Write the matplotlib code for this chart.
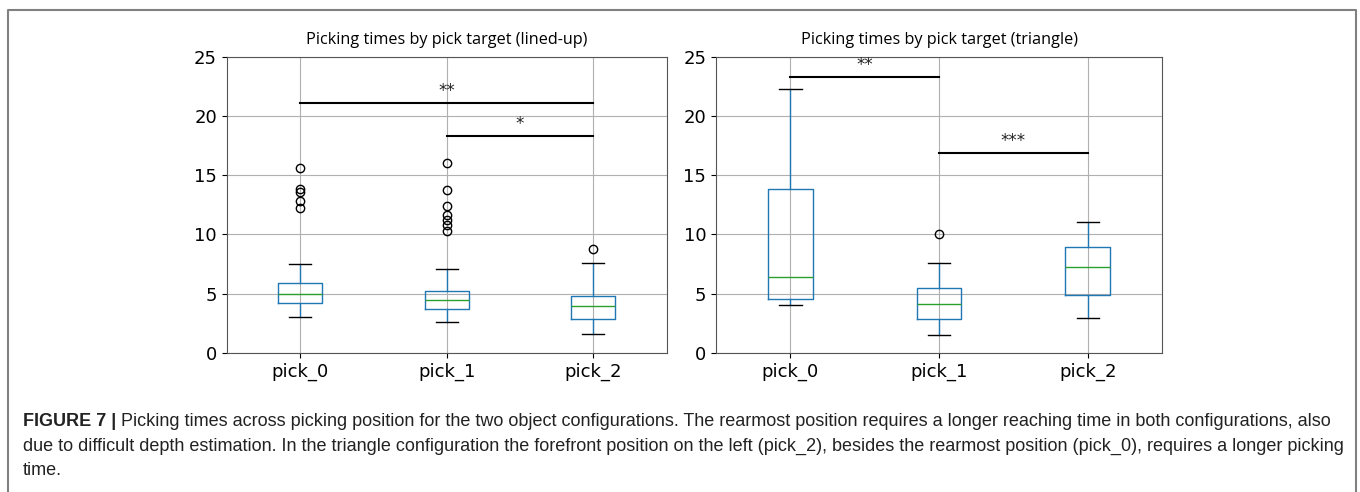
import numpy as np
import matplotlib
matplotlib.use('Agg')
import matplotlib.pyplot as plt
from matplotlib.lines import Line2D

picks = ['pick_0', 'pick_1', 'pick_2']

# lined-up configuration (seconds)
lined_whislo = [3.04, 2.62, 1.60]
lined_q1 = [4.17, 3.69, 2.85]
lined_med = [4.96, 4.42, 3.92]
lined_q3 = [5.86, 5.21, 4.82]
lined_whishi = [7.47, 7.07, 7.55]
lined_fliers = [[15.63, 13.80, 13.60, 12.84, 12.22],
                [16.00, 13.74, 12.36, 11.63, 11.20, 10.78, 10.25],
                [8.73]]
# significance bars: (from, to, height, label)
lined_sig = [(1, 3, 21.06, '**'), (2, 3, 18.30, '*')]

# triangle configuration (seconds)
tri_whislo = [4.03, 1.52, 2.90]
tri_q1 = [4.56, 2.82, 4.90]
tri_med = [6.42, 4.11, 7.26]
tri_q3 = [13.83, 5.49, 8.90]
tri_whishi = [22.25, 7.55, 11.06]
tri_fliers = [[], [10.05], []]
tri_sig = [(1, 2, 23.31, '**'), (2, 3, 16.90, '***')]

caption_lines = [
    'Picking times across picking position for the two object configurations. '
    'The rearmost position requires a longer reaching time in both configurations, also',
    'due to difficult depth estimation. In the triangle configuration the forefront position '
    'on the left (pick_2), besides the rearmost position (pick_0), requires a longer picking',
    'time.',
]

fig = plt.figure(figsize=(13.6, 4.92), dpi=100)

def draw_panel(ax, title, whislo, q1, med, q3, whishi, fliers, sig):
    stats = []
    for i in range(len(picks)):
        stats.append(dict(whislo=whislo[i], q1=q1[i], med=med[i], q3=q3[i],
                          whishi=whishi[i], fliers=fliers[i], label=picks[i]))
    ax.bxp(stats, positions=[1, 2, 3], widths=0.3,
           boxprops=dict(color='#1f77b4'),
           whiskerprops=dict(color='#1f77b4'),
           capprops=dict(color='k'),
           medianprops=dict(color='#2ca02c'),
           flierprops=dict(marker='o', markerfacecolor='none',
                           markeredgecolor='k', markersize=6))
    ax.set_xlim(0.5, 3.5)
    ax.set_ylim(0, 25)
    ax.set_yticks([0, 5, 10, 15, 20, 25])
    ax.set_xticks([1, 2, 3])
    ax.set_xticklabels(picks)
    ax.grid(True, color='#b0b0b0', lw=0.8)
    ax.set_axisbelow(True)
    ax.tick_params(labelsize=13, length=3.5)
    for s in ax.spines.values():
        s.set_color('#555555')
    ax.set_title(title, fontsize=11.7, family='Open Sans', pad=9)
    for a, b, y, lab in sig:
        ax.plot([a, b], [y, y], color='k', lw=1.5)
        ax.text((a + b) / 2, y + 0.25, lab, ha='center', va='bottom',
                fontsize=12, color='#222222')

ax1 = fig.add_axes([0.1667, 0.2831, 0.3235, 0.6016])
draw_panel(ax1, 'Picking times by pick target (lined-up)', lined_whislo, lined_q1,
           lined_med, lined_q3, lined_whishi, lined_fliers, lined_sig)
ax2 = fig.add_axes([0.5265, 0.2831, 0.3280, 0.6016])
draw_panel(ax2, 'Picking times by pick target (triangle)', tri_whislo, tri_q1,
           tri_med, tri_q3, tri_whishi, tri_fliers, tri_sig)

# outer frame, open at the bottom
W, H = 1360.0, 492.0
frame_x = [8 / W, 8 / W, 1356 / W, 1356 / W]
frame_y = [0, 1 - 10 / H, 1 - 10 / H, 0]
fig.add_artist(Line2D(frame_x, frame_y, transform=fig.transFigure,
                      color='#808080', lw=1.5))

# caption: bold figure number followed by the regular text
cap_font = dict(family='Liberation Sans', fontsize=13, color='#222222')
head = fig.text(23 / W, 1 - 421 / H, 'FIGURE 7 | ', fontweight='bold',
                va='center', **cap_font)
fig.add_artist(plt.Annotation(caption_lines[0], xy=(1, 0.5), xycoords=head,
                              va='center', ha='left', **cap_font))
for k, line in enumerate(caption_lines[1:]):
    fig.text(23 / W, 1 - (446 + 24.5 * k) / H, line, va='center', **cap_font)

fig.savefig('out.png', dpi=100)
